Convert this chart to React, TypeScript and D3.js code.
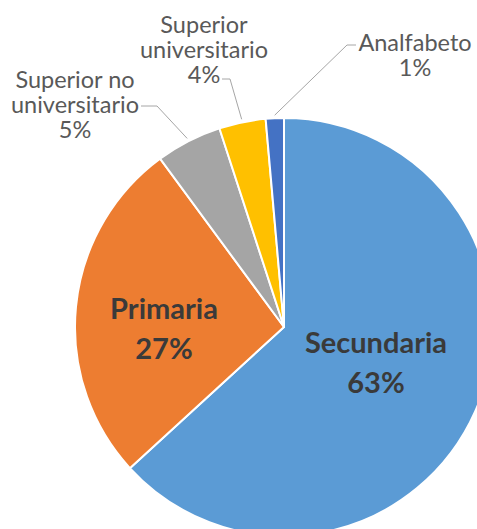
import React from "react";
import * as d3 from "d3";

const categories = ["Secundaria", "Primaria", "Superior no universitario", "Superior universitario", "Analfabeto"];
const values = [63.2, 26.7, 5.1, 3.6, 1.4];
const colors = ["#5B9BD5", "#ED7D31", "#A5A5A5", "#FFC000", "#4472C4"];
const labelLines = [["Secundaria"], ["Primaria"], ["Superior no", "universitario"], ["Superior", "universitario"], ["Analfabeto"]];

const W = 477;
const H = 529;
const CX = 284;
const CY = 327;
const R = 209;

// layout of labels (not data)
const inside = [true, true, false, false, false];
const labelPos: Record<string, { x: number; y: number }> = {
  Secundaria: { x: 376, y: 353 },
  Primaria: { x: 164, y: 319 },
  "Superior no universitario": { x: 75, y: 88 },
  "Superior universitario": { x: 204, y: 33 },
  Analfabeto: { x: 415, y: 51 },
};
const leaders: Record<string, { start: [number, number]; elbow: [number, number] }> = {
  "Superior no universitario": { start: [141, 106], elbow: [157, 106] },
  "Superior universitario": { start: [222, 79], elbow: [230, 79] },
  Analfabeto: { start: [356, 45], elbow: [347, 45] },
};

export default function App() {
  const total = d3.sum(values);
  const pie = d3
    .pie<number>()
    .sort(null)
    .value((d) => d)
    .startAngle(0)
    .endAngle(2 * Math.PI);
  const arcs = pie(values);
  const arc = d3.arc<d3.PieArcDatum<number>>().innerRadius(0).outerRadius(R);
  const edgeArc = d3.arc<d3.PieArcDatum<number>>().innerRadius(R + 3).outerRadius(R + 3);
  const font = "Lato, 'Noto Sans', sans-serif";

  return (
    <svg
      width={W}
      height={H}
      style={{ position: "absolute", left: 0, top: 0, background: "#fff" }}
    >
      <g transform={`translate(${CX},${CY})`}>
        {arcs.map((a, i) => (
          <path key={categories[i]} d={arc(a) || ""} fill={colors[i]} stroke="#fff" strokeWidth={2} strokeLinejoin="round" />
        ))}
      </g>
      {arcs.map((a, i) => {
        const name = categories[i];
        const pct = Math.round((values[i] / total) * 100) + "%";
        const p = labelPos[name];
        const lines = [...labelLines[i], pct];
        if (inside[i]) {
          return (
            <text key={name} x={p.x} textAnchor="middle" fontFamily={font} fontWeight={700} fontSize={29} fill="#3a3a3a">
              {lines.map((l, j) => (
                <tspan key={j} x={p.x} y={p.y + j * 40}>{l}</tspan>
              ))}
            </text>
          );
        }
        const ld = leaders[name];
        const [ex, ey] = edgeArc.centroid(a);
        const pts: [number, number][] = [ld.start, ld.elbow, [ex + CX, ey + CY]];
        return (
          <g key={name}>
            <path d={d3.line()(pts) || ""} fill="none" stroke="#A6A6A6" strokeWidth={1} />
            <text x={p.x} textAnchor="middle" fontFamily={font} fontSize={23.5} fill="#595959">
              {lines.map((l, j) => (
                <tspan key={j} x={p.x} y={p.y + j * 25}>{l}</tspan>
              ))}
            </text>
          </g>
        );
      })}
    </svg>
  );
}
